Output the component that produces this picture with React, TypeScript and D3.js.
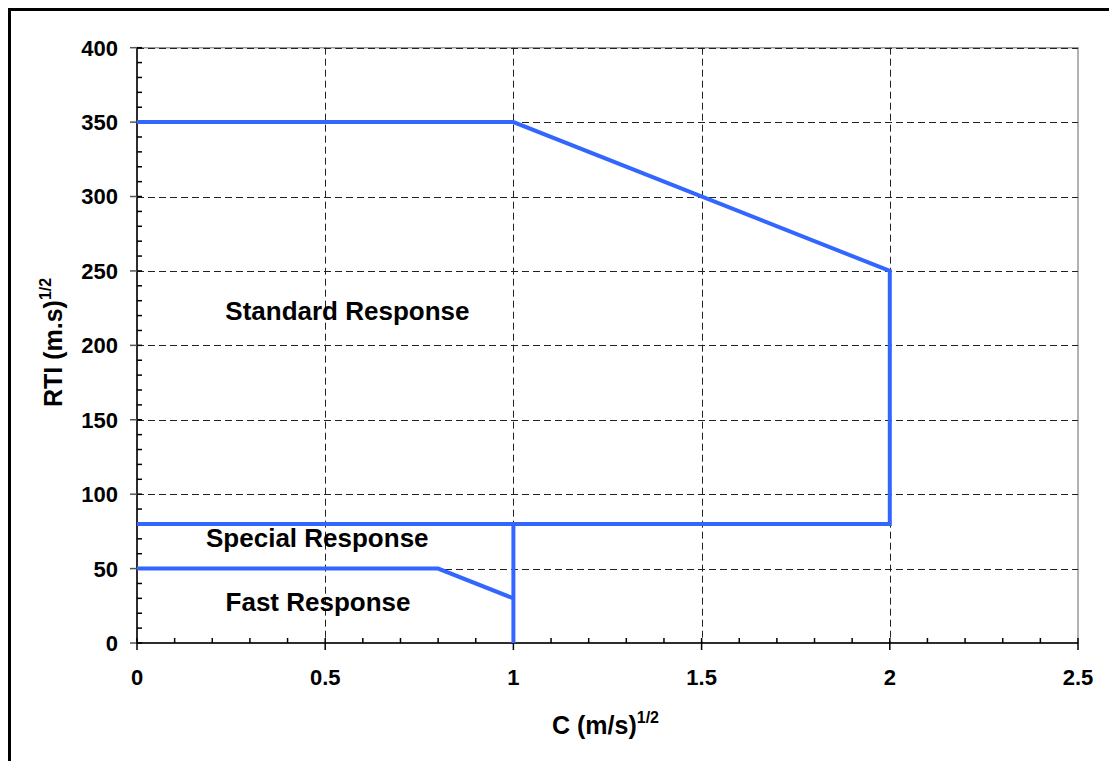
import * as d3 from "d3";

// Response-class boundaries, C (m/s)^1/2 vs RTI (m.s)^1/2
const standardBoundary: [number, number][] = [[0, 350], [1, 350], [2, 250], [2, 80], [0, 80]];
const specialDivider: [number, number][] = [[1, 80], [1, 0]];
const fastBoundary: [number, number][] = [[0, 50], [0.8, 50], [1, 30]];

const xTicks = [0, 0.5, 1, 1.5, 2, 2.5];
const yTicks = [0, 50, 100, 150, 200, 250, 300, 350, 400];

const regionNames = ["Standard Response", "Special Response", "Fast Response"];
const regionX = [0.559, 0.479, 0.481];
const regionY = [217, 64.7, 21.7];

const FONT = "'Liberation Sans', Arial, sans-serif";
const BLUE = "#3366ff";

export default function App() {
    const width = 1109;
    const height = 761;
    const left = 137;
    const right = 1078;
    const top = 47.7;
    const bottom = 643;

    const x = d3.scaleLinear().domain([0, 2.5]).range([left, right]);
    const y = d3.scaleLinear().domain([0, 400]).range([bottom, top]);

    const line = d3.line<[number, number]>()
        .x(d => x(d[0]))
        .y(d => y(d[1]));

    const xMinor = d3.range(0, 2.5001, 0.1).map(v => +v.toFixed(1));
    const yMinor = d3.range(0, 401, 10);

    return (
        <svg width={width} height={height}
             style={{ position: "absolute", left: 0, top: 0, background: "#fff" }}
             fontFamily={FONT} fontWeight="bold">
            {/* outer frame, runs past the window */}
            <rect x={9.5} y={9.5} width={1200} height={800} fill="none" stroke="#000" strokeWidth={3} />

            {/* plot area border */}
            <rect x={left} y={top} width={right - left} height={bottom - top} fill="none" stroke="#999" strokeWidth={1.5} />

            {/* grid */}
            <g stroke="#222" strokeWidth={1} strokeDasharray="7,4">
                {yTicks.filter(v => v > 0).map(v => (
                    <line key={"gy" + v} x1={left} x2={right} y1={Math.round(y(v)) + 0.5} y2={Math.round(y(v)) + 0.5} />
                ))}
                {xTicks.filter(v => v > 0 && v < 2.5).map(v => (
                    <line key={"gx" + v} y1={top} y2={bottom} x1={Math.round(x(v)) + 0.5} x2={Math.round(x(v)) + 0.5} />
                ))}
            </g>

            {/* y axis */}
            <g stroke="#000" strokeWidth={1.5}>
                <line x1={left} x2={left} y1={top} y2={bottom} />
                {yMinor.map(v => (
                    <line key={"ym" + v} x1={left} x2={left + 5} y1={y(v)} y2={y(v)} />
                ))}
                {yTicks.map(v => (
                    <line key={"yM" + v} x1={left - 7} x2={left} y1={y(v)} y2={y(v)} stroke="#555" />
                ))}
            </g>
            <g fontSize={22} textAnchor="end">
                {yTicks.map(v => (
                    <text key={"yl" + v} x={118} y={y(v)} dy="0.36em">{v}</text>
                ))}
            </g>

            {/* x axis */}
            <g stroke="#000" strokeWidth={1.5}>
                <line x1={left} x2={right} y1={bottom} y2={bottom} />
                {xMinor.map(v => (
                    <line key={"xm" + v} x1={x(v)} x2={x(v)} y1={bottom} y2={bottom - 5} />
                ))}
                {xTicks.map(v => (
                    <line key={"xM" + v} x1={x(v)} x2={x(v)} y1={bottom} y2={bottom + 7} />
                ))}
            </g>
            <g fontSize={22} textAnchor="middle">
                {xTicks.map(v => (
                    <text key={"xl" + v} x={x(v)} y={685}>{v}</text>
                ))}
            </g>

            {/* boundaries */}
            <g fill="none" stroke={BLUE} strokeWidth={4}>
                <path d={line(standardBoundary) ?? ""} />
                <path d={line(specialDivider) ?? ""} />
                <path d={line(fastBoundary) ?? ""} />
            </g>

            {/* region labels */}
            <g fontSize={26} textAnchor="middle">
                {regionNames.map((name, i) => (
                    <text key={name} x={x(regionX[i])} y={y(regionY[i])}>{name}</text>
                ))}
            </g>

            {/* axis titles */}
            <text x={552} y={734} fontSize={25}>
                C (m/s)<tspan fontSize={16} dy={-11}>1/2</tspan>
            </text>
            <text transform="translate(62,407) rotate(-90)" fontSize={25}>
                RTI (m.s)<tspan fontSize={16} dy={-11}>1/2</tspan>
            </text>
        </svg>
    );
}
